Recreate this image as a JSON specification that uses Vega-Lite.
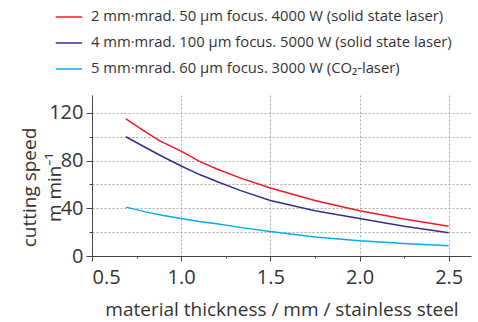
{
  "$schema": "https://vega.github.io/schema/vega-lite/v6.json",
  "width": 379,
  "height": 161,
  "autosize": {"type": "none"},
  "padding": {"left": 92, "top": 95, "right": 7, "bottom": 66},
  "config": {
    "view": {"stroke": null},
    "font": "Open Sans",
    "axis": {"labelFont": "Open Sans", "titleFont": "Open Sans", "labelColor": "#333", "titleColor": "#333", "domainColor": "#444", "tickColor": "#444", "gridColor": "#aaa", "gridDash": [2, 2], "gridWidth": 1, "titleFontWeight": "normal", "labelFontSize": 20, "titleFontSize": 19}
  },
  "data": {
    "values": [
      {"t": 0.69, "v": 115, "s": "2 mm·mrad. 50 µm focus. 4000 W (solid state laser)"},
      {"t": 0.8, "v": 104, "s": "2 mm·mrad. 50 µm focus. 4000 W (solid state laser)"},
      {"t": 0.88, "v": 96.5, "s": "2 mm·mrad. 50 µm focus. 4000 W (solid state laser)"},
      {"t": 1.0, "v": 88, "s": "2 mm·mrad. 50 µm focus. 4000 W (solid state laser)"},
      {"t": 1.1, "v": 79.5, "s": "2 mm·mrad. 50 µm focus. 4000 W (solid state laser)"},
      {"t": 1.2, "v": 73, "s": "2 mm·mrad. 50 µm focus. 4000 W (solid state laser)"},
      {"t": 1.33, "v": 65.5, "s": "2 mm·mrad. 50 µm focus. 4000 W (solid state laser)"},
      {"t": 1.5, "v": 57, "s": "2 mm·mrad. 50 µm focus. 4000 W (solid state laser)"},
      {"t": 1.75, "v": 46.5, "s": "2 mm·mrad. 50 µm focus. 4000 W (solid state laser)"},
      {"t": 2.0, "v": 38, "s": "2 mm·mrad. 50 µm focus. 4000 W (solid state laser)"},
      {"t": 2.25, "v": 31, "s": "2 mm·mrad. 50 µm focus. 4000 W (solid state laser)"},
      {"t": 2.5, "v": 25, "s": "2 mm·mrad. 50 µm focus. 4000 W (solid state laser)"},
      {"t": 0.69, "v": 100, "s": "4 mm·mrad. 100 µm focus. 5000 W (solid state laser)"},
      {"t": 0.8, "v": 91, "s": "4 mm·mrad. 100 µm focus. 5000 W (solid state laser)"},
      {"t": 0.9, "v": 83, "s": "4 mm·mrad. 100 µm focus. 5000 W (solid state laser)"},
      {"t": 1.0, "v": 75.5, "s": "4 mm·mrad. 100 µm focus. 5000 W (solid state laser)"},
      {"t": 1.1, "v": 68.5, "s": "4 mm·mrad. 100 µm focus. 5000 W (solid state laser)"},
      {"t": 1.2, "v": 62.5, "s": "4 mm·mrad. 100 µm focus. 5000 W (solid state laser)"},
      {"t": 1.33, "v": 55, "s": "4 mm·mrad. 100 µm focus. 5000 W (solid state laser)"},
      {"t": 1.5, "v": 46.5, "s": "4 mm·mrad. 100 µm focus. 5000 W (solid state laser)"},
      {"t": 1.75, "v": 38, "s": "4 mm·mrad. 100 µm focus. 5000 W (solid state laser)"},
      {"t": 2.0, "v": 31.5, "s": "4 mm·mrad. 100 µm focus. 5000 W (solid state laser)"},
      {"t": 2.25, "v": 25, "s": "4 mm·mrad. 100 µm focus. 5000 W (solid state laser)"},
      {"t": 2.5, "v": 19.5, "s": "4 mm·mrad. 100 µm focus. 5000 W (solid state laser)"},
      {"t": 0.69, "v": 41, "s": " 5 mm·mrad. 60 µm focus. 3000 W (CO₂-laser)"},
      {"t": 0.8, "v": 37, "s": " 5 mm·mrad. 60 µm focus. 3000 W (CO₂-laser)"},
      {"t": 0.9, "v": 34, "s": " 5 mm·mrad. 60 µm focus. 3000 W (CO₂-laser)"},
      {"t": 1.0, "v": 31.5, "s": " 5 mm·mrad. 60 µm focus. 3000 W (CO₂-laser)"},
      {"t": 1.1, "v": 29, "s": " 5 mm·mrad. 60 µm focus. 3000 W (CO₂-laser)"},
      {"t": 1.2, "v": 27, "s": " 5 mm·mrad. 60 µm focus. 3000 W (CO₂-laser)"},
      {"t": 1.33, "v": 24, "s": " 5 mm·mrad. 60 µm focus. 3000 W (CO₂-laser)"},
      {"t": 1.5, "v": 20.5, "s": " 5 mm·mrad. 60 µm focus. 3000 W (CO₂-laser)"},
      {"t": 1.75, "v": 16, "s": " 5 mm·mrad. 60 µm focus. 3000 W (CO₂-laser)"},
      {"t": 2.0, "v": 12.8, "s": " 5 mm·mrad. 60 µm focus. 3000 W (CO₂-laser)"},
      {"t": 2.25, "v": 10.5, "s": " 5 mm·mrad. 60 µm focus. 3000 W (CO₂-laser)"},
      {"t": 2.5, "v": 8.5, "s": " 5 mm·mrad. 60 µm focus. 3000 W (CO₂-laser)"}
    ]
  },
  "mark": {"type": "line", "strokeWidth": 1.5},
  "encoding": {
    "x": {
      "field": "t", "type": "quantitative",
      "scale": {"domain": [0.5, 2.625], "nice": false, "zero": false},
      "axis": {
        "title": "material thickness / mm / stainless steel",
        "values": [0.5, 0.75, 1, 1.25, 1.5, 1.75, 2, 2.25, 2.5],
        "format": ".1f",
        "labelExpr": "(datum.value*2)%1==0 ? datum.label : ''",
        "labelFlush": true,
        "labelPadding": 6,
        "titlePadding": 13,
        "grid": true,
        "gridOpacity": {"condition": {"test": "(datum.value*2)%1==0", "value": 1}, "value": 0},
        "tickSize": {"condition": {"test": "(datum.value*2)%1==0", "value": 5}, "value": 2}
      }
    },
    "y": {
      "field": "v", "type": "quantitative",
      "scale": {"domain": [0, 135], "nice": false},
      "axis": {
        "title": ["cutting speed", "m min⁻¹"],
        "titleLineHeight": 25,
        "titleX": -53,
        "titleY": 92,
        "titleAlign": "center",
        "values": [0, 20, 40, 60, 80, 100, 120],
        "labelExpr": "datum.value%40==0 ? datum.label : ''",
        "labelPadding": 3,
        "grid": true,
        "tickSize": {"condition": {"test": "datum.value%40==0", "value": 6}, "value": 3}
      }
    },
    "color": {
      "field": "s", "type": "nominal",
      "scale": {
        "domain": ["2 mm·mrad. 50 µm focus. 4000 W (solid state laser)", "4 mm·mrad. 100 µm focus. 5000 W (solid state laser)", " 5 mm·mrad. 60 µm focus. 3000 W (CO₂-laser)"],
        "range": ["#ed1c24", "#2e3192", "#00aeef"]
      },
      "legend": {
        "title": null,
        "orient": "none",
        "legendX": -37,
        "legendY": -92,
        "padding": 0,
        "symbolType": "stroke",
        "symbolSize": 700,
        "symbolStrokeWidth": 1.5,
        "labelFont": "Open Sans",
        "labelFontSize": 14.8,
        "labelColor": "#333",
        "labelLimit": 500,
        "rowPadding": 5,
        "labelOffset": 8
      }
    }
  }
}
